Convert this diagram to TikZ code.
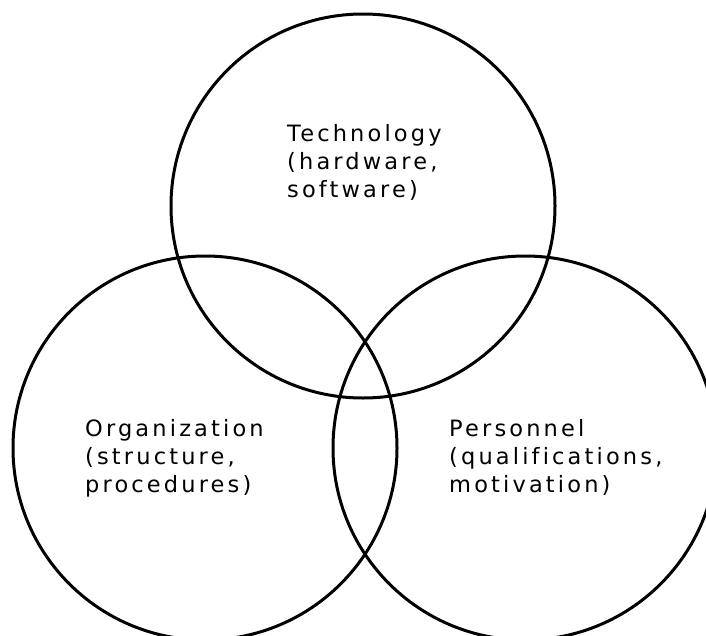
\documentclass[tikz,border=0pt]{standalone}
\usepackage{fontspec}
\newfontfamily\vennfont{DejaVu Sans}[LetterSpace=14, Ligatures=NoCommon]
\usepackage{tikz}

\begin{document}
\begin{tikzpicture}[x=1pt, y=-1pt,
    venn/.style={circle, draw, line width=3pt, minimum size=384pt, inner sep=0pt},
    area/.style={anchor=north west, inner sep=0pt, align=left,
      font=\vennfont\fontsize{22.5}{28}\selectfont}]
  \useasboundingbox (0, 0) rectangle (706, 635);
  \node[venn] (N) at (363, 206) {};
  \node[venn] (W) at (205, 448) {};
  \node[venn] (E) at (525, 448) {};

  \node[area] (Ntext) at (287, 124.5)
      {Technology\\(hardware,\\software)};
  \node[area] (Wtext) at (85, 419)
      {Organization\\(structure,\\procedures)};
  \node[area] (Etext) at (449, 419)
      {Personnel\\(qualifications,\\motivation)};
\end{tikzpicture}
\end{document}
